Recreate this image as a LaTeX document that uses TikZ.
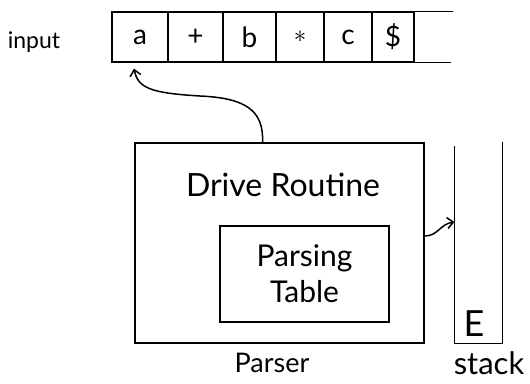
\documentclass[tikz,border=0pt]{standalone}
\usepackage{fontspec}
\setmainfont{Lato}
\usetikzlibrary{arrows.meta}
\begin{document}
\begin{tikzpicture}[x=1pt,y=-1pt,line width=1.3pt,
  cell/.style={draw,minimum height=50pt,inner sep=0pt,font=\fontsize{28}{30}\selectfont},
  lbl/.style={inner sep=0pt,font=\fontsize{20}{24}\selectfont},
  arr/.style={-{Straight Barb[length=6pt,width=11pt]},line width=1.5pt}]
\useasboundingbox (0,0) rectangle (530,383);
% input tape
\node[lbl,font=\fontsize{23}{26}\selectfont] (inp) at (34,42) {input};
\node[cell,minimum width=56pt] (c1) at (140,37) {a};
\node[cell,minimum width=55pt] (c2) at (195.5,37) {+};
\node[cell,minimum width=53pt] (c3) at (249.5,37) {b};
\node[cell,minimum width=48pt] (c4) at (300,37) {$\ast$};
\node[cell,minimum width=48pt] (c5) at (348,37) {c};
\node[cell,minimum width=42pt] (c6) at (393,37) {\$};
\draw (c6.north east) -- ++(38,0);
\draw (c6.south east) -- ++(36,0);
% parser
\node[draw,minimum width=289pt,minimum height=200pt] (parser) at (279.5,243) {};
\node[lbl,font=\fontsize{32}{36}\selectfont] (drv) at (283,185) {Drive Routine};
\node[draw,minimum width=169pt,minimum height=96pt,align=center,
  font=\fontsize{30}{36}\selectfont] (table) at (304.5,274) {Parsing\\Table};
\node[lbl,font=\fontsize{27}{30}\selectfont] (plbl) at (272,363) {Parser};
% stack
\node[minimum width=47pt,minimum height=196pt] (stack) at (478.5,245) {};
\draw (stack.north west) -- (stack.south west) -- (stack.south east) -- ([yshift=4pt]stack.north east);
\node[lbl,font=\fontsize{36}{40}\selectfont] (e) at (474,324) {E};
\node[lbl,font=\fontsize{31}{34}\selectfont] (slbl) at (489,363) {stack};
% arrows
\draw[arr] ([xshift=-17pt]parser.north) .. controls (264,110) and (245,98) .. (200,96)
  .. controls (150,93) and (138,88) .. ([xshift=-6pt,yshift=-6pt]c1.south);
\draw[arr] ([yshift=7pt]parser.east) .. controls (438,236) and (440,224) .. ([yshift=23pt]stack.west);
\end{tikzpicture}
\end{document}
